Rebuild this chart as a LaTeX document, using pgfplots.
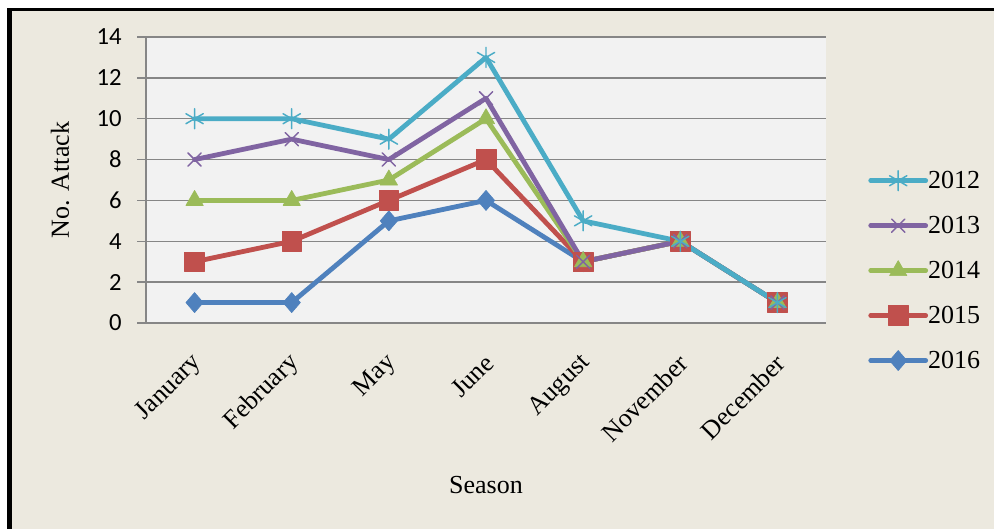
\documentclass[border=0pt]{standalone}
\usepackage{pgfplots}
\pgfplotsset{compat=1.18}
\usepackage{fontspec}
\setmainfont{Liberation Serif}
\newfontfamily\calibri{Carlito}
\definecolor{bg}{HTML}{ECE9DF}
\definecolor{plotbg}{HTML}{F2F2F2}
\definecolor{gridgray}{HTML}{868686}
\definecolor{c2012}{HTML}{4BACC6}
\definecolor{c2013}{HTML}{8064A2}
\definecolor{c2014}{HTML}{9BBB59}
\definecolor{c2015}{HTML}{C0504D}
\definecolor{c2016}{HTML}{4F81BD}
\begin{document}
\begin{tikzpicture}
\begin{scope}[x=0.75pt,y=0.75pt]
\fill[white] (0,0) rectangle (994,529);
\fill[bg] (7,0) rectangle (994,521);
\fill[black] (7,0) rectangle (12,521);
\fill[black] (7,518) rectangle (994,521);
\end{scope}
\begin{axis}[
  at={(109.5pt,154.5pt)}, anchor=south west,
  scale only axis, width=510pt, height=214.5pt,
  xmin=-0.5, xmax=6.5, ymin=0, ymax=14,
  ytick={0,2,...,14}, xtick={0,...,6},
  xticklabels={January,February,May,June,August,November,December},
  axis x line*=bottom, axis y line*=left,
  axis line style={draw=gridgray, line width=1.1pt, -},
  ymajorgrids, major grid style={draw=gridgray, line width=1.1pt},
  tick align=outside, major tick length=6.75pt,
  ytick style={draw=gridgray, line width=1.1pt},
  xtick style={draw=none},
  /pgf/number format/assume math mode=true,
  yticklabel style={font=\calibri\fontsize{18.5}{20}\selectfont, xshift=-8pt},
  xticklabel style={font=\fontsize{19.5}{22}\selectfont, xshift=5pt, yshift=-18pt, rotate=45, anchor=east},
  axis background/.style={fill=plotbg},
  xlabel={Season}, ylabel={No. Attack},
  label style={font=\fontsize{19.5}{22}\selectfont},
  xlabel style={at={(axis description cs:0.5,-0.566)}, anchor=center},
  ylabel style={at={(axis description cs:-0.1265,0.5)}, anchor=center},
  legend style={at={(1.056,0.5485)}, anchor=north west, draw=none, fill=none,
    font=\fontsize{19.5}{22}\selectfont, row sep=16.25pt, nodes={inner ysep=1.5pt, inner xsep=0pt}},
  legend cell align=left,
  reverse legend,
  legend image code/.code={\draw[mark repeat=2,mark phase=2] plot coordinates {(0pt,0pt)(20.6pt,0pt)(41.2pt,0pt)};},
  every axis plot/.append style={line width=3.6pt, line join=round, line cap=round},
]
\addplot[color=c2016, mark=diamond*, mark size=7.5pt, mark options={solid, line width=0.5pt, xscale=1.15}]
  coordinates {(0,1)(1,1)(2,5)(3,6)(4,3)(5,4)(6,1)};
\addlegendentry{2016}
\addplot[color=c2015, mark=square*, mark size=7.4pt, mark options={solid, line width=0.5pt}]
  coordinates {(0,3)(1,4)(2,6)(3,8)(4,3)(5,4)(6,1)};
\addlegendentry{2015}
\addplot[color=c2014, mark=triangle*, mark size=7.5pt, mark options={solid, line width=0.5pt}]
  coordinates {(0,6)(1,6)(2,7)(3,10)(4,3)(5,4)(6,1)};
\addlegendentry{2014}
\addplot[color=c2013, mark=x, mark size=7pt, mark options={solid, line width=1.1pt}]
  coordinates {(0,8)(1,9)(2,8)(3,11)(4,3)(5,4)(6,1)};
\addlegendentry{2013}
\addplot[color=c2012, mark=asterisk, mark size=7.5pt, mark options={solid, line width=1.1pt}]
  coordinates {(0,10)(1,10)(2,9)(3,13)(4,5)(5,4)(6,1)};
\addlegendentry{2012}
\end{axis}
\pgfresetboundingbox
\useasboundingbox (0,0) rectangle (745.5pt,396.75pt);
\end{tikzpicture}
\end{document}
